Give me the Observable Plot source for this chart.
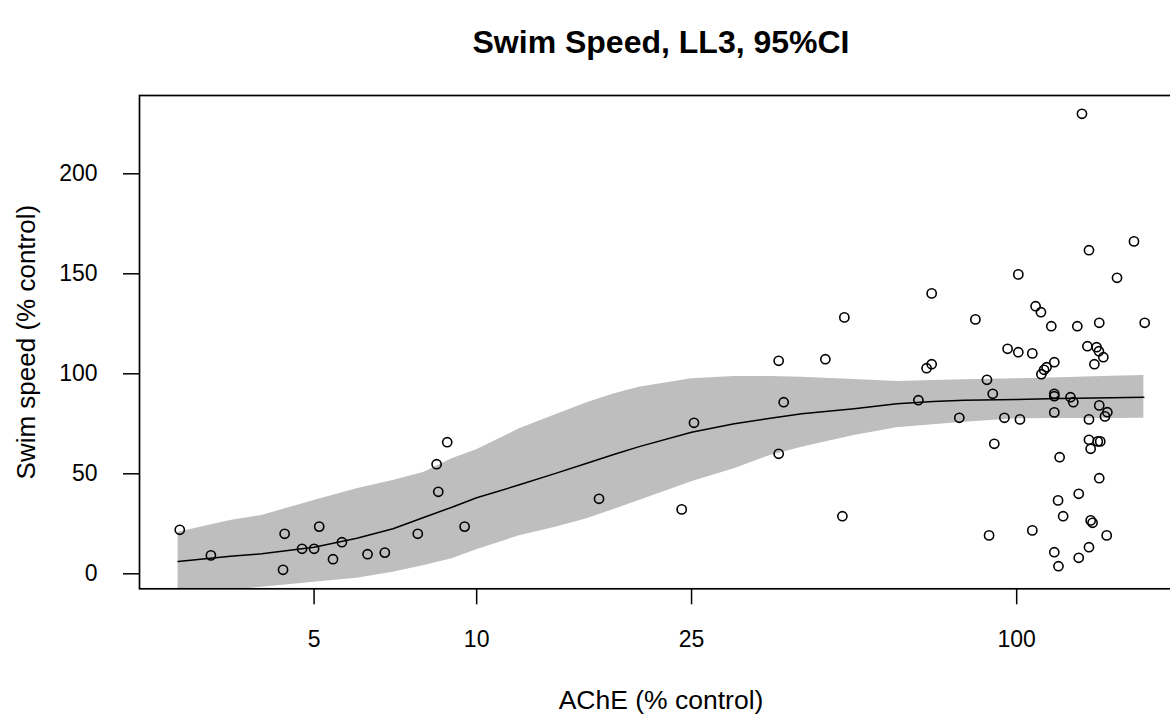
<!DOCTYPE html>
<html>
<head>
<meta charset="utf-8">
<script src="https://cdn.jsdelivr.net/npm/d3@7"></script>
<script src="https://cdn.jsdelivr.net/npm/@observablehq/plot@0.6"></script>
<style>
  html, body { margin: 0; padding: 0; background: white; overflow: hidden; }
  #chart svg { overflow: hidden; display: block; }
  #chart [aria-label$="axis tick"] { stroke-width: 1.5px; }
</style>
</head>
<body>
<div id="chart"></div>
<script>
// ---- data ----
const title = "Swim Speed, LL3, 95%CI";
const xLabel = "AChE (% control)";
const yLabel = "Swim speed (% control)";
const xTicks = [5, 10, 25, 100];
const yTicks = [0, 50, 100, 150, 200];

// observed points: AChE (% control) and swim speed (% control)
const ache = [
  2.82, 3.22, 4.41, 4.38, 4.75, 5.0, 5.11, 5.63, 5.42, 6.28, 6.76, 7.78, 8.43, 8.49, 8.82, 9.5,
  16.85, 23.97, 25.26, 36.25, 37.03, 36.25, 44.23, 47.96, 47.56,
  69.6, 68.1, 69.6, 65.76, 78.3, 83.86, 88.1, 90.3, 90.9, 88.9, 94.9, 96.2,
  100.7, 100.7, 101.4, 106.9, 106.9, 108.4, 110.9, 111.1, 112.4, 113.6, 117.4, 115.9,
  117.4, 117.4, 117.4, 120.1, 119.3, 121.9, 117.4, 119.5, 125.8, 127.3, 129.5, 130.3, 130.3,
  132.1, 136.1, 135.2, 140.6, 142.0, 139.3, 144.7, 142.2, 142.2, 136.1, 147.2, 145.7,
  136.1, 141.3, 142.8, 137.1, 142.2, 137.1, 138.2, 146.8, 136.1, 153.4, 164.9, 172.6
];
const speed = [
  22, 9.2, 20, 2, 12.5, 12.5, 23.6, 15.8, 7.3, 9.8, 10.6, 20, 54.8, 41, 65.8, 23.6,
  37.5, 32.2, 75.5, 106.5, 85.8, 60, 107.3, 128.2, 28.8,
  140.2, 102.8, 104.8, 86.8, 78, 127.2, 97, 90, 65, 19.2, 78, 112.5,
  149.7, 110.8, 77.2, 110.2, 21.7, 133.8, 130.8, 99.8, 102, 103.3, 105.8, 123.8,
  90, 88.8, 80.7, 58.3, 36.7, 28.8, 10.8, 3.8, 88.3, 85.8, 123.8, 40, 8,
  230, 161.8, 113.8, 113.3, 111.3, 104.8, 108.3, 125.5, 84.2, 77.2, 80.8, 78.7,
  67, 66.2, 66.2, 62.5, 47.8, 26.7, 25.5, 19.2, 13.3, 148, 166.2, 125.5
];

// fitted LL3 curve and 95% CI band, read at these AChE values
const fitX  = [2.8, 3.5, 4, 5, 6, 7, 8, 9, 10, 12, 14, 16, 18, 20, 25, 30, 35, 40, 50, 60, 70, 80, 100, 120, 150, 172];
const fitY  = [6.2, 8.8, 10, 13.3, 17.8, 22.5, 28.3, 33.3, 38, 44.5, 50.2, 55.3, 59.8, 63.6, 70.8, 75, 77.8, 80, 82.5, 85, 86.2, 86.8, 87.2, 87.6, 88, 88.3];
const ciLo  = [-11, -8, -6.7, -4.2, -2.2, 0.8, 4.2, 7.5, 12, 19, 23.3, 27.5, 32.3, 36.7, 46, 52.5, 59.2, 63.3, 69.2, 73, 74.5, 75.8, 77.5, 77.6, 77.7, 77.8];
const ciHi  = [20.8, 26.7, 29.2, 36.6, 42.5, 46.6, 50.8, 57.5, 62, 72.5, 79.5, 85.5, 90, 93.3, 97.5, 98.7, 98.7, 98.3, 97.2, 96.2, 96.7, 97, 97.5, 98, 98.8, 99.2];

// ---- tables built from the arrays ----
const points = ache.map((a, i) => ({x: a, y: speed[i]}));
const band = fitX.map((a, i) => ({x: a, fit: fitY[i], lo: ciLo[i], hi: ciHi[i]}));

const font = "'Liberation Sans', Arial, sans-serif";

const chart = Plot.plot({
  width: 1170,
  height: 720,
  marginLeft: 139,
  marginRight: -12,
  marginTop: 95,
  marginBottom: 131.7,
  style: {fontFamily: font, fontSize: "23px", color: "black", background: "white", overflow: "hidden"},
  x: {
    type: "log",
    domain: [2.375, 202.8],
    ticks: xTicks,
    tickFormat: d => String(d),
    tickSize: 16,
    tickPadding: 26,
    label: null
  },
  y: {
    domain: [-7.5, 239.15],
    ticks: yTicks,
    tickFormat: d => String(d),
    tickSize: 16,
    tickPadding: 26,
    label: null
  },
  marks: [
    Plot.areaY(band, {x: "x", y1: "lo", y2: "hi", fill: "#bebebe", clip: true}),
    Plot.line(band, {x: "x", y: "fit", stroke: "black", strokeWidth: 1.5, clip: true}),
    Plot.dot(points, {x: "x", y: "y", r: 4.6, stroke: "black", strokeWidth: 1.6, fill: "none"}),
    Plot.frame({stroke: "black", strokeWidth: 1.7}),
    Plot.text([title], {text: d => d, frameAnchor: "top", dy: -65, fontSize: 32, fontWeight: "bold", fill: "black"}),
    Plot.text([xLabel], {text: d => d, frameAnchor: "bottom", dy: 120, fontSize: 26.5, fill: "black"}),
    Plot.text([yLabel], {text: d => d, frameAnchor: "left", textAnchor: "middle", dx: -113, rotate: -90, fontSize: 26, fill: "black"})
  ]
});

document.getElementById("chart").appendChild(chart);
</script>
</body>
</html>
